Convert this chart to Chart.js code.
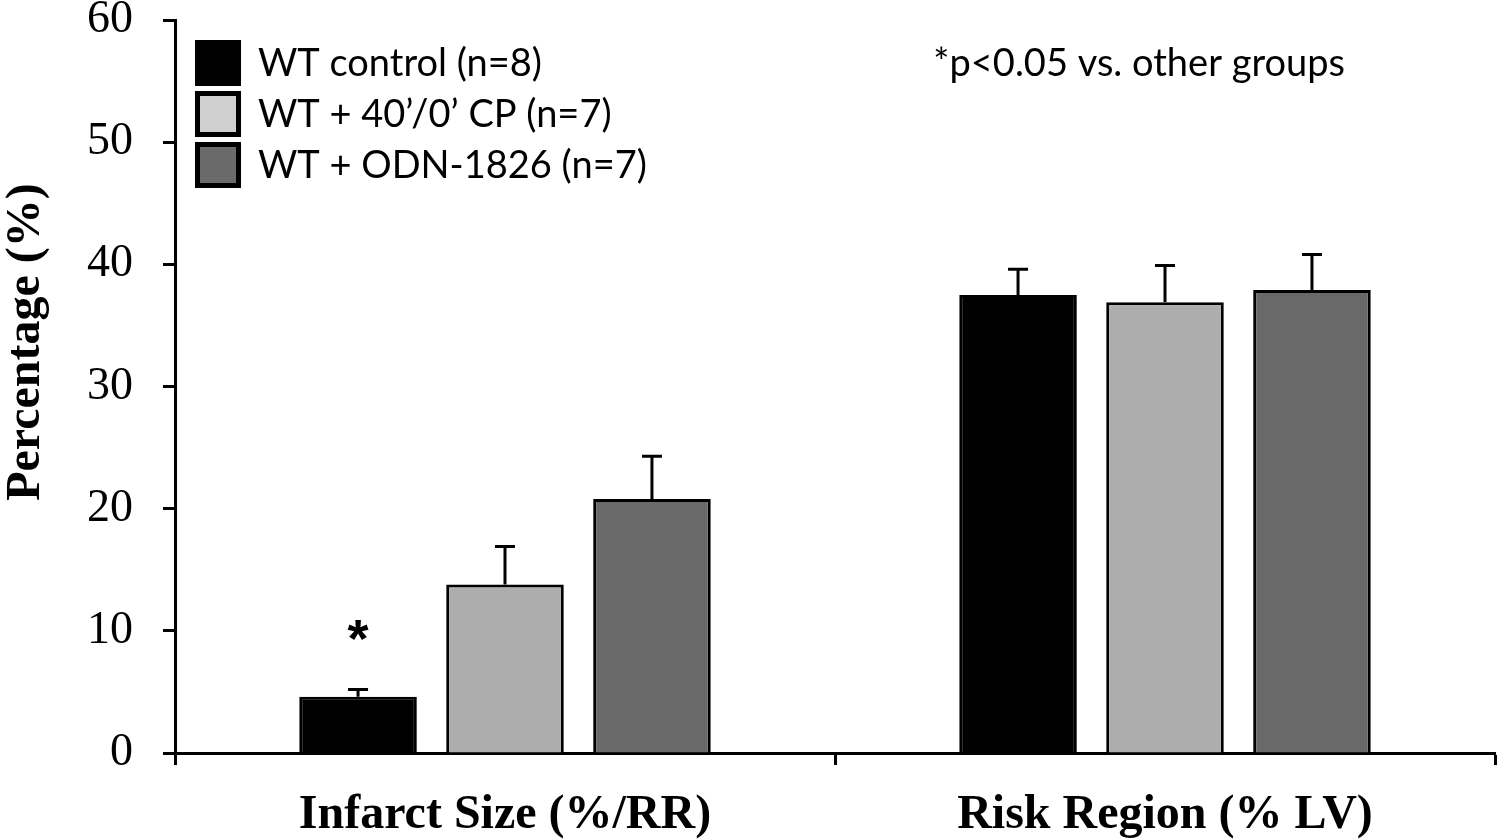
<!DOCTYPE html>
<html lang="en">
<head>
<meta charset="UTF-8">
<title>Infarct size and risk region</title>
<script src="https://cdn.jsdelivr.net/npm/chart.js"></script>
<style>
  html, body { margin: 0; padding: 0; background: #fff; }
  #chart-container { width: 1500px; height: 840px; }
</style>
</head>
<body>
<div id="chart-container">
  <canvas id="myChart" width="1500" height="840"></canvas>
</div>
<script>
// categories on the x axis
const categories = ['Infarct Size (%/RR)', 'Risk Region (% LV)'];

// groups (legend)
const groupLabels = ['WT control (n=8)', 'WT + 40\u2019/0\u2019 CP (n=7)', 'WT + ODN-1826 (n=7)'];

// mean values per group (%)
const wtControl = [4.6, 37.5];
const wtCP = [13.8, 36.9];
const wtODN = [20.8, 37.9];

// SEM (upper error bar)
const semControl = [0.6, 2.1];
const semCP = [3.1, 3.0];
const semODN = [3.5, 2.9];

// y axis ticks
const yTicks = [0, 10, 20, 30, 40, 50, 60];

// significance marks: dataset, category, height of the asterisk
const sigMarks = [{ dataset: 0, index: 0, value: 9.9 }];

const noteText = '*p<0.05 vs. other groups';
const yTitle = 'Percentage (%)';

const barColors = ['#000000', '#adadad', '#696969'];
const legendColors = ['#000000', '#cfcfcf', '#6a6a6a'];

const serif = '"Liberation Serif", "Times New Roman", serif';
const sans = 'Lato, "Open Sans", sans-serif';

const errorBars = {
    id: 'errorBars',
    afterDatasetsDraw(chart) {
        const ctx = chart.ctx;
        const y = chart.scales.y;
        ctx.save();
        ctx.strokeStyle = '#000';
        ctx.lineWidth = 3;
        chart.data.datasets.forEach((ds, i) => {
            const meta = chart.getDatasetMeta(i);
            meta.data.forEach((bar, j) => {
                const top = y.getPixelForValue(ds.data[j] + ds.sem[j]);
                ctx.beginPath();
                ctx.moveTo(bar.x, bar.y);
                ctx.lineTo(bar.x, top);
                ctx.moveTo(bar.x - 10, top);
                ctx.lineTo(bar.x + 10, top);
                ctx.stroke();
            });
        });
        ctx.restore();
    }
};

const annotations = {
    id: 'annotations',
    afterDraw(chart) {
        const ctx = chart.ctx;
        const area = chart.chartArea;
        const y = chart.scales.y;
        ctx.save();

        // legend in the top-left corner of the plot
        ctx.font = '38px ' + sans;
        ctx.textBaseline = 'middle';
        ctx.textAlign = 'left';
        groupLabels.forEach((label, i) => {
            const bx = area.left + 20;
            const by = area.top + 20 + i * 51;
            ctx.fillStyle = '#000';
            ctx.fillRect(bx, by, 46, 46);
            ctx.fillStyle = legendColors[i];
            ctx.fillRect(bx + 5, by + 5, 36, 36);
            ctx.fillStyle = '#000';
            ctx.fillText(label, bx + 63, by + 24);
        });

        // significance note
        ctx.textAlign = 'right';
        ctx.fillText(noteText, area.left + 1170, area.top + 44);

        // asterisks
        ctx.textAlign = 'center';
        ctx.font = 'bold 54px "Liberation Sans", sans-serif';
        sigMarks.forEach(m => {
            const bar = chart.getDatasetMeta(m.dataset).data[m.index];
            ctx.fillText('*', bar.x, y.getPixelForValue(m.value) + 10);
        });

        // y axis title
        ctx.translate(27, 342);
        ctx.rotate(-Math.PI / 2);
        ctx.font = 'bold 48px ' + serif;
        ctx.fillText(yTitle, 0, 0);
        ctx.restore();
    }
};

const config = {
    type: 'bar',
    data: {
        labels: categories,
        datasets: [
            { label: groupLabels[0], data: wtControl, sem: semControl },
            { label: groupLabels[1], data: wtCP, sem: semCP },
            { label: groupLabels[2], data: wtODN, sem: semODN }
        ].map((d, i) => Object.assign(d, {
            backgroundColor: barColors[i],
            borderColor: '#000',
            borderWidth: 3,
            barPercentage: 0.8,
            categoryPercentage: 0.668
        }))
    },
    options: {
        responsive: false,
        animation: false,
        layout: { padding: { top: 20, right: 5, left: 0, bottom: 0 } },
        plugins: {
            legend: { display: false },
            tooltip: { enabled: false }
        },
        scales: {
            x: {
                grid: {
                    drawOnChartArea: false,
                    drawTicks: true,
                    tickLength: 12,
                    tickWidth: 3,
                    tickColor: '#000',
                    offset: true
                },
                border: { color: '#000', width: 3 },
                ticks: {
                    color: '#000',
                    padding: 22,
                    font: { family: serif, size: 48, weight: 'bold' }
                },
                afterFit(scale) {
                    scale.height = 87;
                    scale.paddingLeft = 0;
                    scale.paddingRight = 0;
                }
            },
            y: {
                min: 0,
                max: 60,
                afterBuildTicks(scale) { scale.ticks = yTicks.map(v => ({ value: v })); },
                grid: {
                    drawOnChartArea: false,
                    drawTicks: true,
                    tickLength: 12,
                    tickWidth: 3,
                    tickColor: '#000'
                },
                border: { color: '#000', width: 3 },
                ticks: {
                    color: '#000',
                    padding: 30,
                    font: { family: serif, size: 46 }
                },
                afterFit(scale) {
                    scale.width = 175;
                    scale.paddingTop = 0;
                    scale.paddingBottom = 0;
                }
            }
        }
    },
    plugins: [errorBars, annotations]
};

const ctx = document.getElementById('myChart').getContext('2d');
const myChart = new Chart(ctx, config);
</script>
</body>
</html>
